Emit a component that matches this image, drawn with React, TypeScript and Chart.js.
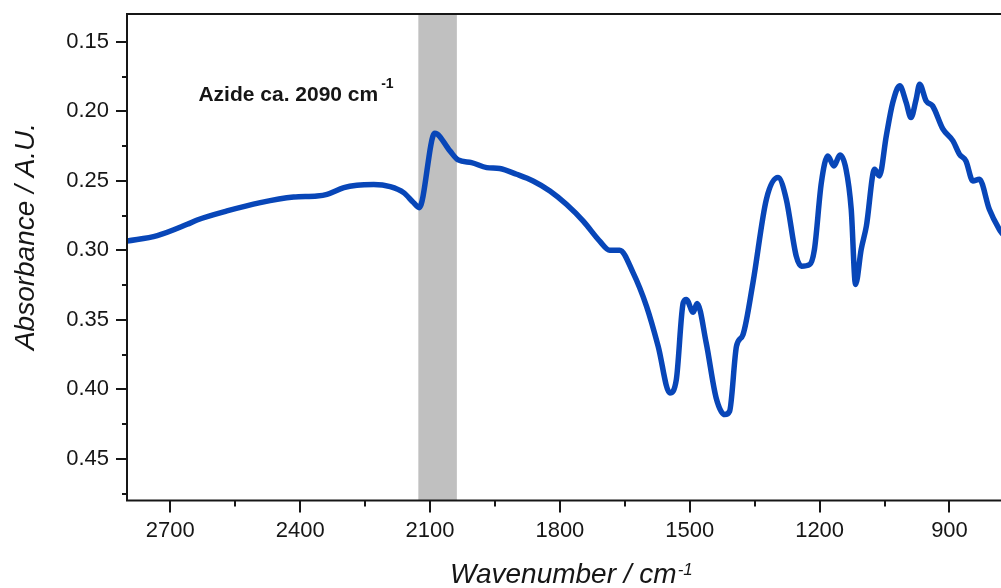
import React, { useEffect, useRef } from "react";
import { Chart, registerables } from "chart.js";

Chart.register(...registerables);

// Wavenumber (cm^-1) and absorbance
const wavenumbers = [
  2800, 2730, 2661, 2638, 2569, 2492, 2415, 2361, 2338, 2299, 2269, 2230, 2192, 2161, 2138, 2125,
  2089, 2054, 2035, 2004, 1969, 1939, 1900, 1862, 1823, 1785, 1746, 1708, 1685, 1662, 1631, 1600,
  1573, 1546, 1531, 1515, 1508, 1492, 1483, 1462, 1439, 1419, 1408, 1392, 1377, 1354, 1323, 1296,
  1277, 1254, 1242, 1223, 1212, 1196, 1181, 1167, 1153, 1139, 1127, 1117, 1104, 1092, 1073, 1062,
  1046, 1031, 1015, 1000, 989, 977, 969, 954, 939, 915, 892, 877, 862, 846, 831, 808, 785, 778,
];
const absorbance = [
  0.2934, 0.2894, 0.2813, 0.2782, 0.2717, 0.2657, 0.2617, 0.2609, 0.2597, 0.2549, 0.2532, 0.2527,
  0.2542, 0.2585, 0.2657, 0.2693, 0.2158, 0.2285, 0.235, 0.2369, 0.2405, 0.2412, 0.2453, 0.2501,
  0.2573, 0.2669, 0.279, 0.2934, 0.2999, 0.2999, 0.3161, 0.3402, 0.369, 0.4026, 0.393, 0.3377,
  0.3354, 0.3445, 0.3383, 0.3666, 0.4062, 0.4182, 0.4158, 0.369, 0.3606, 0.3233, 0.2633, 0.2477,
  0.2633, 0.3042, 0.3114, 0.3102, 0.2994, 0.2513, 0.2321, 0.2393, 0.2315, 0.2417, 0.2705, 0.3246,
  0.2994, 0.2826, 0.2417, 0.2465, 0.2177, 0.1937, 0.1817, 0.1937, 0.2045, 0.1913, 0.1805, 0.1925,
  0.1961, 0.2129, 0.2213, 0.2309, 0.2357, 0.2501, 0.2489, 0.2705, 0.2849, 0.288,
];

const xMajorTicks = [2700, 2400, 2100, 1800, 1500, 1200, 900];
const xMinorTicks = [2550, 2250, 1950, 1650, 1350, 1050];
const yMajorTicks = [0.15, 0.2, 0.25, 0.3, 0.35, 0.4, 0.45];
const yMinorTicks = [0.175, 0.225, 0.275, 0.325, 0.375, 0.425, 0.475];

const bandRange = [2127, 2038];
const annotationText = "Azide ca. 2090 cm";
const annotationSup = "-1";
const annotationPos = [2635, 0.1925];
const xTitle = "Wavenumber / cm";
const xTitleSup = "-1";
const yTitle = "Absorbance / A.U.";

const FONT = "'Liberation Sans', Arial, Helvetica, sans-serif";
const INK = "#161616";

const framePlugin = {
  id: "framePlugin",
  beforeDatasetsDraw(chart: any) {
    const { ctx, chartArea: a, scales } = chart;
    const x1 = scales.x.getPixelForValue(bandRange[0]);
    const x2 = scales.x.getPixelForValue(bandRange[1]);
    ctx.save();
    ctx.fillStyle = "#c0c0c0";
    ctx.fillRect(Math.min(x1, x2), a.top, Math.abs(x2 - x1), a.bottom - a.top);
    ctx.restore();
  },
  afterDraw(chart: any) {
    const { ctx, chartArea: a, scales } = chart;
    const xs = scales.x;
    const ys = scales.y;
    ctx.save();
    ctx.strokeStyle = INK;
    ctx.lineWidth = 2;
    ctx.lineCap = "butt";
    // frame: top, left, bottom
    ctx.beginPath();
    ctx.moveTo(a.right, a.top);
    ctx.lineTo(a.left, a.top);
    ctx.lineTo(a.left, a.bottom);
    ctx.lineTo(a.right, a.bottom);
    ctx.stroke();
    // ticks
    ctx.beginPath();
    for (const v of yMajorTicks) {
      const p = Math.round(ys.getPixelForValue(v));
      ctx.moveTo(a.left, p);
      ctx.lineTo(a.left - 11, p);
    }
    for (const v of yMinorTicks) {
      const p = Math.round(ys.getPixelForValue(v));
      ctx.moveTo(a.left, p);
      ctx.lineTo(a.left - 5, p);
    }
    for (const v of xMajorTicks) {
      const p = Math.round(xs.getPixelForValue(v));
      ctx.moveTo(p, a.bottom);
      ctx.lineTo(p, a.bottom + 12);
    }
    for (const v of xMinorTicks) {
      const p = Math.round(xs.getPixelForValue(v));
      ctx.moveTo(p, a.bottom);
      ctx.lineTo(p, a.bottom + 6);
    }
    ctx.stroke();

    ctx.fillStyle = INK;
    ctx.textAlign = "left";
    ctx.textBaseline = "alphabetic";

    // annotation
    const ax = xs.getPixelForValue(annotationPos[0]);
    const ay = ys.getPixelForValue(annotationPos[1]);
    ctx.font = `bold 21px ${FONT}`;
    ctx.fillText(annotationText, ax, ay);
    const aw = ctx.measureText(annotationText).width;
    ctx.font = `bold 14px ${FONT}`;
    ctx.fillText(annotationSup, ax + aw + 3, ay - 13);

    // x title
    const tx = 450;
    const ty = 583;
    ctx.font = `italic 28px ${FONT}`;
    ctx.fillText(xTitle, tx, ty);
    const tw = ctx.measureText(xTitle).width;
    ctx.font = `italic 17px ${FONT}`;
    ctx.fillText(xTitleSup, tx + tw + 1, ty - 8);

    // y title
    ctx.save();
    ctx.translate(33.5, 236.5);
    ctx.rotate(-Math.PI / 2);
    ctx.textAlign = "center";
    ctx.font = `italic 28px ${FONT}`;
    ctx.fillText(yTitle, 0, 0);
    ctx.restore();

    ctx.restore();
  },
};

export default function App() {
  const ref = useRef<HTMLCanvasElement>(null);

  useEffect(() => {
    if (!ref.current) return;
    const points = wavenumbers.map((w, i) => ({ x: w, y: absorbance[i] }));
    const chart = new Chart(ref.current, {
      type: "line",
      data: {
        datasets: [
          {
            data: points,
            borderColor: "#0846b8",
            borderWidth: 5.5,
            pointRadius: 0,
            fill: false,
            cubicInterpolationMode: "monotone",
            borderJoinStyle: "round",
            borderCapStyle: "round",
          },
        ],
      },
      options: {
        animation: false,
        responsive: false,
        devicePixelRatio: 1,
        events: [],
        layout: { padding: { top: 14, left: 0, right: 0, bottom: 0 } },
        plugins: { legend: { display: false }, tooltip: { enabled: false } },
        scales: {
          x: {
            type: "linear",
            min: 781,
            max: 2800,
            reverse: true,
            grid: { display: false, drawTicks: false },
            border: { display: false },
            afterBuildTicks: (s: any) => {
              s.ticks = xMajorTicks.map((v) => ({ value: v }));
            },
            afterFit: (s: any) => {
              s.height = 87.5;
              s.paddingLeft = 0;
              s.paddingRight = 0;
            },
            ticks: {
              autoSkip: false,
              maxRotation: 0,
              minRotation: 0,
              padding: 17,
              color: INK,
              font: { family: FONT, size: 22 },
              callback: (v: any) => String(v),
            },
          },
          y: {
            type: "linear",
            min: 0.13,
            max: 0.48,
            reverse: true,
            grid: { display: false, drawTicks: false },
            border: { display: false },
            afterBuildTicks: (s: any) => {
              s.ticks = yMajorTicks.map((v) => ({ value: v }));
            },
            afterFit: (s: any) => {
              s.width = 127;
              s.paddingTop = 0;
              s.paddingBottom = 0;
            },
            ticks: {
              autoSkip: false,
              padding: 18,
              color: INK,
              font: { family: FONT, size: 22 },
              callback: (v: any) => Number(v).toFixed(2),
            },
          },
        },
      },
      plugins: [framePlugin],
    } as any);
    return () => chart.destroy();
  }, []);

  return (
    <div
      style={{
        position: "absolute",
        left: 0,
        top: 0,
        width: 1001,
        height: 588,
        overflow: "hidden",
        background: "#ffffff",
      }}
    >
      <canvas ref={ref} width={1001} height={588} style={{ display: "block", width: 1001, height: 588 }} />
    </div>
  );
}
